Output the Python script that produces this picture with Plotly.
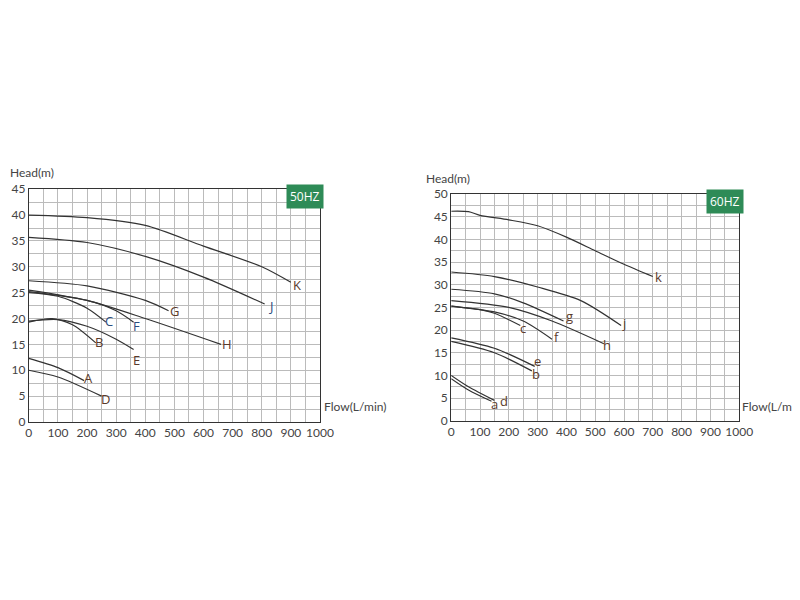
import plotly.graph_objects as go

# 50Hz curves (flow L/min, head m)
L50 = {
 "K": ([0,200,400,600,800,900],[40,39.5,38,34,30,27]),
 "J": ([0,200,400,600,810],[35.7,34.7,32,28,22.8]),
 "G": ([0,200,400,480],[27.3,26.3,23.5,21.5]),
 "H": ([0,200,400,660],[25.5,23.5,20,15]),
 "F": ([0,200,300,360],[25.2,23.5,21.5,19.3]),
 "C": ([0,100,200,265],[25,24.3,22,19.3]),
 "E": ([0,100,200,300,360],[19.5,19.8,18.5,16,14]),
 "B": ([0,80,150,230],[19.3,20,18.8,15.3]),
 "A": ([0,100,190],[12.3,10.5,8]),
 "D": ([0,100,250],[10,8.7,5]),
}
L50_pos = {"K":(920,26.5),"J":(830,22.5),"G":(500,21.5),"H":(680,15),"F":(370,18.5),
           "C":(275,19.5),"E":(370,12),"B":(240,15.5),"A":(205,8.5),"D":(265,4.5)}
C50 = {"C":"#2b4c7e","F":"#2b4c7e","J":"#2b4c7e"}

L60 = {
 "k": ([0,60,100,200,300,400,500,600,700],[46.2,46.1,45.3,44.3,43,40.5,37.5,34.5,31.8]),
 "j": ([0,150,300,450,590],[32.8,31.8,29.5,26.5,21]),
 "g": ([0,150,250,390],[29,28,26,22]),
 "h": ([0,200,350,530],[26.5,25,22,17]),
 "f": ([0,150,250,350],[25.3,24,22,18]),
 "c": ([0,100,150,240],[25.3,24.5,23.7,21]),
 "e": ([0,150,290],[18.3,16,12]),
 "b": ([0,150,280],[17.5,15,11]),
 "d": ([0,60,150],[10,7.5,4.5]),
 "a": ([0,60,140],[9.3,6.8,4.3]),
}
L60_pos = {"k":(720,31.8),"j":(600,21.5),"g":(410,23),"h":(540,16.8),"f":(365,18.5),
           "c":(250,20.5),"e":(300,13.2),"b":(295,10.3),"d":(185,4.3),"a":(150,3.8)}

fig = go.Figure()
for name,(x,y) in L50.items():
    fig.add_trace(go.Scatter(x=x,y=y,mode="lines",line=dict(color="#333",width=1.2,shape="spline",smoothing=0.8),
                             showlegend=False,xaxis="x",yaxis="y"))
for name,(x,y) in L60.items():
    fig.add_trace(go.Scatter(x=x,y=y,mode="lines",line=dict(color="#333",width=1.2,shape="spline",smoothing=0.8),
                             showlegend=False,xaxis="x2",yaxis="y2"))
ann = []
for n,(x,y) in L50_pos.items():
    ann.append(dict(x=x,y=y,xref="x",yref="y",text=n,showarrow=False,
                    font=dict(size=13,color=C50.get(n,"#5a3a2a"))))
for n,(x,y) in L60_pos.items():
    ann.append(dict(x=x,y=y,xref="x2",yref="y2",text=n,showarrow=False,
                    font=dict(size=13,color="#5a3a2a")))
tf = dict(family="Lato, sans-serif",size=12,color="#444")
ann += [
 dict(x=0.0,y=0.71,xref="paper",yref="paper",xanchor="left",yanchor="bottom",text="Head(m)",showarrow=False,font=tf),
 dict(x=0.392,y=0.32,xref="paper",yref="paper",xanchor="left",text="Flow(L/min)",showarrow=False,font=tf),
 dict(x=0.52,y=0.70,xref="paper",yref="paper",xanchor="left",yanchor="bottom",text="Head(m)",showarrow=False,font=tf),
 dict(x=0.915,y=0.32,xref="paper",yref="paper",xanchor="left",text="Flow(L/min)",showarrow=False,font=tf),
 dict(x=950,y=43.5,xref="x",yref="y",text="50HZ",showarrow=False,bgcolor="#2e8b57",
      font=dict(size=12,color="white"),borderpad=3),
 dict(x=950,y=48.3,xref="x2",yref="y2",text="60HZ",showarrow=False,bgcolor="#2e8b57",
      font=dict(size=12,color="white"),borderpad=3),
]
ax = dict(showline=True,mirror=True,linecolor="#333",gridcolor="#bbb",zeroline=False,
          tickfont=tf,ticks="",automargin=False)
mg = dict(showgrid=True,gridcolor="#bbb")
fig.update_layout(
 width=800,height=600,margin=dict(l=0,r=0,t=0,b=0),plot_bgcolor="white",paper_bgcolor="white",
 xaxis=dict(ax,domain=[0.026,0.39],range=[0,1000],dtick=100,minor=dict(mg,dtick=50),anchor="y"),
 yaxis=dict(ax,domain=[0.31,0.698],range=[0,45],dtick=5,minor=dict(mg,dtick=2.5),anchor="x"),
 xaxis2=dict(ax,domain=[0.554,0.914],range=[0,1000],dtick=100,minor=dict(mg,dtick=50),anchor="y2"),
 yaxis2=dict(ax,domain=[0.312,0.69],range=[0,50],dtick=5,minor=dict(mg,dtick=2.5),anchor="x2"),
 annotations=ann,
)
fig.write_html("out.html")
